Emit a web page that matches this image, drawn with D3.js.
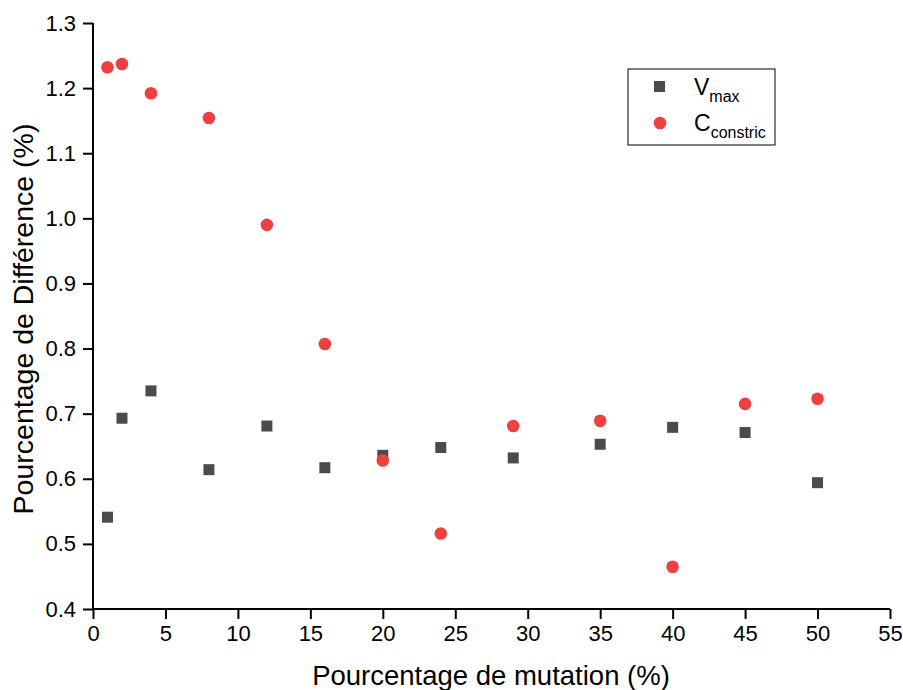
<!DOCTYPE html>
<html>
<head>
<meta charset="utf-8">
<script src="https://cdn.jsdelivr.net/npm/d3@7"></script>
<style>
  body { margin: 0; background: #fff; }
  text { font-family: "Liberation Sans", Arial, sans-serif; fill: #000; }
</style>
</head>
<body>
<div id="chart"></div>
<script>
//////////////////////
//  main constants  //
//////////////////////
const WIDTH = 903;
const HEIGHT = 690;
const MARGIN = { TOP: 23, BOTTOM: 81, LEFT: 93, RIGHT: 13 };

// data
const mutation = [1, 2, 4, 8, 12, 16, 20, 24, 29, 35, 40, 45, 50];
const vmax = [0.541, 0.693, 0.735, 0.614, 0.681, 0.617, 0.636, 0.648, 0.632, 0.653, 0.679, 0.671, 0.594];
const cConstric = [1.232, 1.237, 1.192, 1.154, 0.990, 0.807, 0.628, 0.516, 0.681, 0.689, 0.465, 0.715, 0.723];
const xTicks = [0, 5, 10, 15, 20, 25, 30, 35, 40, 45, 50, 55];
const yTicks = [0.4, 0.5, 0.6, 0.7, 0.8, 0.9, 1.0, 1.1, 1.2, 1.3];

const SQUARE_COLOR = "#4b4b4b";
const CIRCLE_COLOR = "#ef4040";

const svg = d3.select("#chart").append("svg")
    .attr("width", WIDTH)
    .attr("height", HEIGHT);

const x = d3.scaleLinear().domain([0, 55]).range([MARGIN.LEFT, WIDTH - MARGIN.RIGHT]);
const y = d3.scaleLinear().domain([0.4, 1.3]).range([HEIGHT - MARGIN.BOTTOM, MARGIN.TOP]);

/////////////
//  axes   //
/////////////
const minorX = d3.range(2.5, 55, 5);
const minorY = d3.range(0.45, 1.3, 0.1);

const xAxisG = svg.append("g").attr("transform", `translate(0, ${y(0.4)})`);
xAxisG.call(d3.axisBottom(x).tickValues(minorX).tickSize(5).tickFormat(""));
xAxisG.call(d3.axisBottom(x).tickValues(xTicks).tickSize(10).tickPadding(6).tickFormat(d3.format("d")));

const yAxisG = svg.append("g").attr("transform", `translate(${x(0)}, 0)`);
yAxisG.call(d3.axisLeft(y).tickValues(minorY).tickSize(5).tickFormat(""));
yAxisG.call(d3.axisLeft(y).tickValues(yTicks).tickSize(10).tickPadding(7).tickFormat(d3.format(".1f")));

svg.selectAll(".domain").attr("stroke", "#000").attr("stroke-width", 2);
svg.selectAll(".tick line").attr("stroke", "#000").attr("stroke-width", 2);
svg.selectAll(".tick text")
    .style("font-size", "22px")
    .style("font-family", "'Liberation Sans', Arial, sans-serif");
xAxisG.selectAll(".domain").attr("d", `M${x(0)},0H${x(55)}`);
yAxisG.selectAll(".domain").attr("d", `M0,${y(0.4)}V${y(1.3)}`);

// axis titles
svg.append("text")
    .attr("x", 491)
    .attr("y", 685)
    .attr("text-anchor", "middle")
    .style("font-size", "27.5px")
    .text("Pourcentage de mutation (%)");

svg.append("text")
    .attr("transform", "translate(33, 319) rotate(-90)")
    .attr("text-anchor", "middle")
    .style("font-size", "28.5px")
    .text("Pourcentage de Différence (%)");

/////////////////
//  main code  //
/////////////////
const points = mutation.map((m, i) => ({ m: m, v: vmax[i], c: cConstric[i] }));

svg.append("g").selectAll("rect")
    .data(points)
    .join("rect")
    .attr("x", d => x(d.m) - 5.5)
    .attr("y", d => y(d.v) - 5.5)
    .attr("width", 11)
    .attr("height", 11)
    .attr("fill", SQUARE_COLOR);

svg.append("g").selectAll("circle")
    .data(points)
    .join("circle")
    .attr("cx", d => x(d.m))
    .attr("cy", d => y(d.c))
    .attr("r", 6.3)
    .attr("fill", CIRCLE_COLOR);

//////////////
//  legend  //
//////////////
const legend = svg.append("g").attr("transform", "translate(628, 69)");
legend.append("rect")
    .attr("width", 147)
    .attr("height", 76)
    .attr("fill", "#fff")
    .attr("stroke", "#000")
    .attr("stroke-width", 1);

legend.append("rect")
    .attr("x", 26).attr("y", 12)
    .attr("width", 11).attr("height", 11)
    .attr("fill", SQUARE_COLOR);
legend.append("circle")
    .attr("cx", 32).attr("cy", 54)
    .attr("r", 6.3)
    .attr("fill", CIRCLE_COLOR);

const t1 = legend.append("text").attr("x", 66).attr("y", 26).style("font-size", "23px");
t1.append("tspan").text("V");
t1.append("tspan").attr("dy", 7).style("font-size", "16px").text("max");

const t2 = legend.append("text").attr("x", 66).attr("y", 62).style("font-size", "23px");
t2.append("tspan").text("C");
t2.append("tspan").attr("dy", 7).style("font-size", "16px").text("constric");
</script>
</body>
</html>
